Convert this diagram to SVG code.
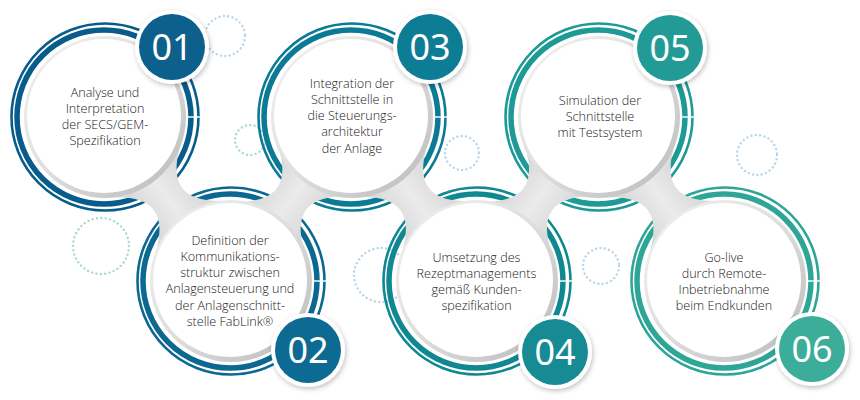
<svg xmlns="http://www.w3.org/2000/svg" xmlns:xlink="http://www.w3.org/1999/xlink" width="860" height="400" viewBox="0 0 860 400">
<style>
.dot{fill:none;stroke-width:2.4;stroke-linecap:round;stroke-dasharray:0.1 4.3}
.blue{stroke:#bcd5e6}
.green{stroke:#a6dcca}
.thin{fill:none;stroke-width:2.6}
.thick{fill:none;stroke-width:5.5}
.rim{fill:url(#rimGrad)}
.disk{fill:#ffffff}
.conn{fill:url(#connGrad)}
.lbl{font-family:"Open Sans","Noto Sans","DejaVu Sans",sans-serif;font-weight:300;font-size:12.6px;fill:#222222;text-anchor:middle}
.num{font-family:"Noto Sans","DejaVu Sans",sans-serif;font-size:36px;fill:#ffffff;text-anchor:middle}
.bw{fill:#ffffff}
</style>
<defs>
<linearGradient id="rimGrad" x1="0" y1="0" x2="1" y2="1">
<stop offset="0" stop-color="#f2f2f2"/>
<stop offset="0.5" stop-color="#dedede"/>
<stop offset="1" stop-color="#b9b9b9"/>
</linearGradient>
<linearGradient id="connGrad" x1="0" y1="0" x2="0" y2="1">
<stop offset="0" stop-color="#d4d4d4"/>
<stop offset="0.5" stop-color="#ebebeb"/>
<stop offset="1" stop-color="#d4d4d4"/>
</linearGradient>
<filter id="sh" x="-40%" y="-40%" width="180%" height="180%">
<feDropShadow dx="1" dy="2" stdDeviation="2.5" flood-color="#000" flood-opacity="0.25"/>
</filter>
<path id="connShape" d="M -33,-40 Q 0,4 33,-40 L 33,40 Q 0,-4 -33,40 Z"/>
<mask id="cut" maskUnits="userSpaceOnUse" x="0" y="0" width="860" height="400">
<rect x="0" y="0" width="860" height="400" fill="#fff"/>
<use xlink:href="#connShape" href="#connShape" fill="#000" transform="translate(168,199) rotate(52.46)"/>
<use xlink:href="#connShape" href="#connShape" fill="#000" transform="translate(291.5,199) rotate(-53.58)"/>
<use xlink:href="#connShape" href="#connShape" fill="#000" transform="translate(414.5,199) rotate(52.68)"/>
<use xlink:href="#connShape" href="#connShape" fill="#000" transform="translate(538,199) rotate(-53.35)"/>
<use xlink:href="#connShape" href="#connShape" fill="#000" transform="translate(662,199) rotate(52.46)"/>
<rect x="185" y="116.3" width="16" height="1.4" fill="#000"/>
<rect x="432" y="116.3" width="16" height="1.4" fill="#000"/>
<rect x="679" y="116.3" width="16" height="1.4" fill="#000"/>
<rect x="311" y="280.3" width="16" height="1.4" fill="#000"/>
<rect x="557" y="280.3" width="16" height="1.4" fill="#000"/>
<rect x="805" y="280.3" width="16" height="1.4" fill="#000"/>
</mask>
</defs>
<rect x="0" y="0" width="860" height="400" fill="#ffffff"/>

<g id="decor">
<circle class="dot blue" cx="225" cy="36" r="20"/>
<circle class="dot green" cx="250" cy="140" r="15"/>
<circle class="dot green" cx="101" cy="246" r="28"/>
<circle class="dot blue" cx="462" cy="153" r="17"/>
<circle class="dot blue" cx="381" cy="275" r="27"/>
<circle class="dot blue" cx="601" cy="266" r="18"/>
<circle class="dot blue" cx="757" cy="155" r="20"/>
</g>

<g id="connectors">
<use xlink:href="#connShape" href="#connShape" class="conn" transform="translate(168,199) rotate(52.46)"/>
<use xlink:href="#connShape" href="#connShape" class="conn" transform="translate(291.5,199) rotate(-53.58)"/>
<use xlink:href="#connShape" href="#connShape" class="conn" transform="translate(414.5,199) rotate(52.68)"/>
<use xlink:href="#connShape" href="#connShape" class="conn" transform="translate(538,199) rotate(-53.35)"/>
<use xlink:href="#connShape" href="#connShape" class="conn" transform="translate(662,199) rotate(52.46)"/>
</g>

<g id="step1">
<g mask="url(#cut)" stroke="#075c8b"><circle class="thin" cx="105" cy="117" r="93.5"/><circle class="thick" cx="104" cy="117" r="87"/></g>
<circle class="rim" cx="105" cy="117" r="81"/><circle class="disk" cx="104" cy="116" r="77"/>
<text class="lbl" x="105"><tspan x="105" y="96.5">Analyse und</tspan><tspan x="105" y="112.8">Interpretation</tspan><tspan x="105" y="129.1">der SECS/GEM-</tspan><tspan x="105" y="145.4">Spezifikation</tspan></text>
<g filter="url(#sh)"><circle class="bw" cx="172" cy="47" r="37"/><circle cx="172" cy="47" r="33" fill="#0b5e8c"/></g>
<text class="num" x="172" y="59.5">01</text>
</g>

<g id="step2">
<g mask="url(#cut)" stroke="#0a6891"><circle class="thin" cx="231" cy="281" r="93.5"/><circle class="thick" cx="230" cy="281" r="87"/></g>
<circle class="rim" cx="231" cy="281" r="81"/><circle class="disk" cx="230" cy="280" r="77"/>
<text class="lbl" x="230"><tspan x="230" y="244.5">Definition der</tspan><tspan x="230" y="260.8">Kommunikations-</tspan><tspan x="230" y="277.1">struktur zwischen</tspan><tspan x="230" y="293.4">Anlagensteuerung und</tspan><tspan x="230" y="309.7">der Anlagenschnitt-</tspan><tspan x="230" y="326">stelle FabLink®</tspan></text>
<g filter="url(#sh)"><circle class="bw" cx="308" cy="350" r="37"/><circle cx="308" cy="350" r="33" fill="#0d6b93"/></g>
<text class="num" x="308" y="362.5">02</text>
</g>

<g id="step3">
<g mask="url(#cut)" stroke="#0b7a94"><circle class="thin" cx="352" cy="117" r="93.5"/><circle class="thick" cx="351" cy="117" r="87"/></g>
<circle class="rim" cx="352" cy="117" r="81"/><circle class="disk" cx="351" cy="116" r="77"/>
<text class="lbl" x="352"><tspan x="352" y="87.5">Integration der</tspan><tspan x="352" y="103.8">Schnittstelle in</tspan><tspan x="352" y="120.1">die Steuerungs-</tspan><tspan x="352" y="136.4">architektur</tspan><tspan x="352" y="152.7">der Anlage</tspan></text>
<g filter="url(#sh)"><circle class="bw" cx="430" cy="47" r="37"/><circle cx="430" cy="47" r="33" fill="#0b7b95"/></g>
<text class="num" x="430" y="59.5">03</text>
</g>

<g id="step4">
<g mask="url(#cut)" stroke="#108892"><circle class="thin" cx="477" cy="281" r="93.5"/><circle class="thick" cx="476" cy="281" r="87"/></g>
<circle class="rim" cx="477" cy="281" r="81"/><circle class="disk" cx="476" cy="280" r="77"/>
<text class="lbl" x="476.5"><tspan x="476.5" y="261.5">Umsetzung des</tspan><tspan x="476.5" y="277.8">Rezeptmanagements</tspan><tspan x="476.5" y="294.1">gemäß Kunden-</tspan><tspan x="476.5" y="310.4">spezifikation</tspan></text>
<g filter="url(#sh)"><circle class="bw" cx="555" cy="352" r="37"/><circle cx="555" cy="352" r="33" fill="#128b93"/></g>
<text class="num" x="555" y="364.5">04</text>
</g>

<g id="step5">
<g mask="url(#cut)" stroke="#1d9a95"><circle class="thin" cx="599" cy="117" r="93.5"/><circle class="thick" cx="598" cy="117" r="87"/></g>
<circle class="rim" cx="599" cy="117" r="81"/><circle class="disk" cx="598" cy="116" r="77"/>
<text class="lbl" x="600"><tspan x="600" y="104.5">Simulation der</tspan><tspan x="600" y="120.8">Schnittstelle</tspan><tspan x="600" y="137.1">mit Testsystem</tspan></text>
<g filter="url(#sh)"><circle class="bw" cx="670" cy="48" r="37"/><circle cx="670" cy="48" r="33" fill="#209b97"/></g>
<text class="num" x="670" y="60.5">05</text>
</g>

<g id="step6">
<g mask="url(#cut)" stroke="#2ea697"><circle class="thin" cx="725" cy="281" r="93.5"/><circle class="thick" cx="724" cy="281" r="87"/></g>
<circle class="rim" cx="725" cy="281" r="81"/><circle class="disk" cx="724" cy="280" r="77"/>
<text class="lbl" x="724"><tspan x="724" y="261.5">Go-live</tspan><tspan x="724" y="277.8">durch Remote-</tspan><tspan x="724" y="294.1">Inbetriebnahme</tspan><tspan x="724" y="310.4">beim Endkunden</tspan></text>
<g filter="url(#sh)"><circle class="bw" cx="812" cy="349" r="37"/><circle cx="812" cy="349" r="33" fill="#3aad98"/></g>
<text class="num" x="812" y="361.5">06</text>
</g>
</svg>
